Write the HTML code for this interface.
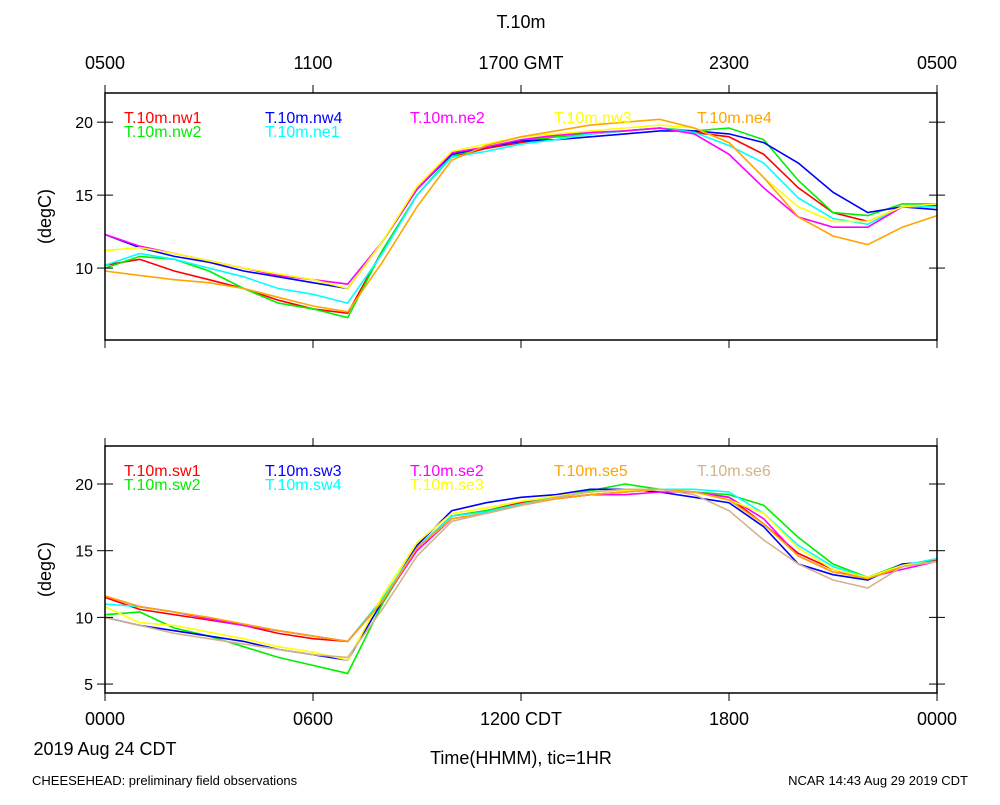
<!DOCTYPE html>
<html><head><meta charset="utf-8"><style>
body{margin:0;background:#fff;}
svg text{font-family:"Liberation Sans",sans-serif;}
</style></head><body>
<svg id="c" width="1000" height="800" xmlns="http://www.w3.org/2000/svg">
<rect width="1000" height="800" fill="#fff"/>
<text x="521" y="28" font-size="18" text-anchor="middle">T.10m</text>
<text x="32" y="785" font-size="13">CHEESEHEAD: preliminary field observations</text>
<text x="968" y="785" font-size="13" text-anchor="end">NCAR 14:43 Aug 29 2019 CDT</text>
<text x="105" y="755" font-size="18" text-anchor="middle">2019 Aug 24 CDT</text>
<text x="521" y="764" font-size="18" text-anchor="middle">Time(HHMM), tic=1HR</text>
<g id="g"></g>
</svg>
<script>
const hours=[0,1,2,3,4,5,6,7,8,9,10,11,12,13,14,15,16,17,18,19,20,21,22,23,24];
const topTickLabels=["0500","1100","1700 GMT","2300","0500"];
const botTickLabels=["0000","0600","1200 CDT","1800","0000"];
const topYTicks=[10,15,20];
const botYTicks=[5,10,15,20];
const topNames=["T.10m.nw1","T.10m.nw2","T.10m.nw4","T.10m.ne1","T.10m.ne2","T.10m.nw3","T.10m.ne4"];
const topColors=["#f00","#0e0","#00f","#0ff","#f0f","#ff0","#ffa500"];
const nw1=[10.2,10.6,9.8,9.2,8.6,7.8,7.2,6.9,11.2,15.0,17.6,18.2,18.6,19.0,19.2,19.4,19.6,19.3,19.0,17.8,15.5,13.8,13.2,14.2,14.3];
const nw2=[10.0,10.8,10.6,9.8,8.6,7.6,7.2,6.6,11.2,15.0,17.7,18.3,18.7,19.0,19.2,19.4,19.6,19.4,19.6,18.8,16.0,13.8,13.6,14.4,14.4];
const nw4=[12.3,11.4,10.8,10.4,9.8,9.4,9.0,8.6,11.8,15.4,17.8,18.3,18.7,18.8,19.0,19.2,19.4,19.4,19.2,18.6,17.2,15.2,13.8,14.2,14.0];
const ne1=[10.2,11.0,10.6,10.0,9.4,8.6,8.2,7.6,11.0,15.0,17.6,18.0,18.5,18.8,19.2,19.4,19.6,19.3,18.4,17.2,14.8,13.4,13.0,14.2,14.2];
const ne2=[12.3,11.5,11.0,10.5,10.0,9.5,9.2,8.9,11.8,15.4,17.9,18.3,18.8,19.1,19.3,19.4,19.6,19.2,17.8,15.5,13.5,12.8,12.8,14.2,14.4];
const nw3=[11.2,11.4,11.0,10.5,10.0,9.6,9.2,8.6,11.8,15.6,18.0,18.5,19.0,19.2,19.4,19.6,19.8,19.6,18.6,16.2,14.2,13.2,13.2,14.2,14.4];
const ne4=[9.8,9.5,9.2,9.0,8.6,8.0,7.4,7.0,10.4,14.2,17.4,18.4,19.0,19.4,19.8,20.0,20.2,19.6,18.6,16.2,13.5,12.2,11.6,12.8,13.6];
const topSeries=[nw1,nw2,nw4,ne1,ne2,nw3,ne4];
const botNames=["T.10m.sw1","T.10m.sw2","T.10m.sw3","T.10m.sw4","T.10m.se2","T.10m.se3","T.10m.se5","T.10m.se6"];
const botColors=["#f00","#0e0","#00f","#0ff","#f0f","#ff0","#ffa500","#d2b48c"];
const sw1=[11.5,10.6,10.2,9.8,9.4,8.8,8.4,8.2,11.2,15.2,17.6,18.0,18.6,18.9,19.2,19.4,19.6,19.4,19.0,17.0,14.8,13.6,12.9,13.8,14.3];
const sw2=[10.2,10.4,9.2,8.6,7.8,7.0,6.4,5.8,11.0,15.2,17.6,18.0,18.5,19.0,19.5,20.0,19.6,19.4,19.2,18.4,16.0,14.0,13.0,14.0,14.2];
const sw3=[10.0,9.4,9.0,8.6,8.2,7.6,7.2,6.8,11.2,15.4,18.0,18.6,19.0,19.2,19.6,19.6,19.4,19.0,18.6,16.8,14.0,13.2,12.8,14.0,14.2];
const sw4=[11.0,10.8,10.4,9.9,9.4,9.0,8.6,8.2,11.4,15.2,17.6,17.9,18.5,18.9,19.2,19.4,19.6,19.6,19.4,17.8,15.4,13.8,13.0,13.9,14.4];
const se2=[11.6,10.8,10.4,9.9,9.4,9.0,8.6,8.2,11.2,15.0,17.4,17.8,18.4,18.9,19.2,19.2,19.4,19.4,19.0,17.4,14.6,13.4,13.0,13.6,14.2];
const se3=[10.8,9.6,9.4,8.9,8.4,7.8,7.4,6.8,11.6,15.6,17.8,18.2,18.7,19.1,19.4,19.5,19.6,19.4,18.8,17.8,15.2,13.6,13.0,13.9,14.2];
const se5=[11.6,10.8,10.4,10.0,9.5,9.0,8.6,8.2,11.2,15.2,17.4,17.8,18.4,18.9,19.2,19.4,19.6,19.4,18.8,17.0,14.6,13.4,12.9,13.8,14.2];
const se6=[10.0,9.4,8.8,8.4,8.0,7.6,7.2,7.0,10.6,14.6,17.2,17.8,18.4,19.0,19.4,19.6,19.6,19.2,18.0,15.8,14.0,12.8,12.2,13.8,14.2];
const botSeries=[sw1,sw2,sw3,sw4,se2,se3,se5,se6];

const NS="http://www.w3.org/2000/svg";
const G=document.getElementById('g');
function mk(tag,attrs,parent){const e=document.createElementNS(NS,tag);for(const k in attrs)e.setAttribute(k,attrs[k]);(parent||G).appendChild(e);return e;}
const X0=105,X1=937;
function xs(h){return X0+(h/24)*(X1-X0);}
function panel(id,top,bot,ymin,ymax,yt,names,colors,series,tl,showTop){
  const ys=v=>bot-(v-ymin)/(ymax-ymin)*(bot-top);
  const g=mk('g',{});
  
  
  series.forEach((s,i)=>{
    const p=mk('polyline',{points:s.map((v,j)=>xs(hours[j]).toFixed(1)+','+ys(v).toFixed(1)).join(' '),fill:'none',stroke:colors[i],'stroke-width':1.6},g);
    
    
  });
  const r=mk('rect',{x:X0,y:top,width:X1-X0,height:bot-top,fill:'none',stroke:'#000','stroke-width':1.5},g);
  
  
  yt.forEach(v=>{
    const y=ys(v);
    mk('line',{x1:X0-8,x2:X0+8,y1:y,y2:y,stroke:'#000'},g);
    mk('line',{x1:X1-8,x2:X1+8,y1:y,y2:y,stroke:'#000'},g);
    const t=mk('text',{x:X0-12,y:y+6,'font-size':16,'text-anchor':'end'},g);
    t.textContent=v;
    
    
  });
  for(let k=0;k<=4;k++){
    const x=xs(k*6);
    mk('line',{x1:x,x2:x,y1:top-8,y2:top,stroke:'#000'},g);
    mk('line',{x1:x,x2:x,y1:bot,y2:bot+8,stroke:'#000'},g);
  }
  if(tl){tl.labels.forEach((l,k)=>{
    const t=mk('text',{x:xs(k*6),y:tl.y,'font-size':18,'text-anchor':'middle'},g);
    t.textContent=l;
    
    
  });}
  const yl=mk('text',{x:0,y:0,'font-size':18,'text-anchor':'middle',transform:`translate(51,${(top+bot)/2}) rotate(-90)`},g);
  yl.textContent='(degC)';
  
  
  const cols=[124,265,410,554,697];
  const order=names.length===7?[[0,0],[1,0],[2,1],[3,1],[4,2],[5,3],[6,4]]:[[0,0],[1,0],[2,1],[3,1],[4,2],[5,2],[6,3],[7,4]];
  const rowsUsed={};
  order.forEach(([i,c])=>{
    const row=rowsUsed[c]||0;rowsUsed[c]=row+1;
    const t=mk('text',{x:cols[c],y:top+30+row*14,'font-size':16,fill:colors[i]},g);
    t.textContent=names[i];
    
    
  });
}
panel('top',93,340,5.07,22,topYTicks,topNames,topColors,topSeries,{labels:topTickLabels,y:69,name:'top-x-tick-label'});
panel('bottom',446,693,4.33,22.85,botYTicks,botNames,botColors,botSeries,{labels:botTickLabels,y:725,name:'bottom-x-tick-label'});
</script>
</body></html>
